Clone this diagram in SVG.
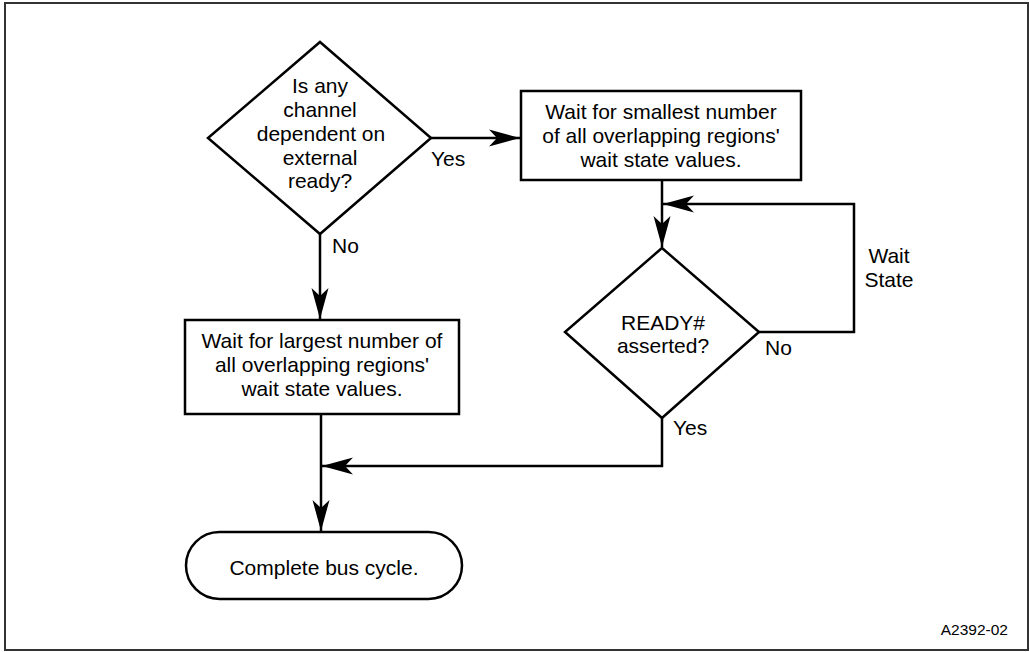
<svg xmlns="http://www.w3.org/2000/svg" width="1030" height="652" viewBox="0 0 1030 652">
<style>
.shape{fill:#fff;stroke:#000;stroke-width:2.5}
.line{fill:none;stroke:#000;stroke-width:2.5}
text{font-family:"Liberation Sans",Arial,sans-serif;font-size:21px;fill:#000}
.c{text-anchor:middle}
</style>
<defs>
<marker id="arr" viewBox="-32 -10 34 20" refX="0" refY="0" markerWidth="34" markerHeight="20" markerUnits="userSpaceOnUse" orient="auto">
<path d="M0,0 L-31,-8.5 L-23,0 L-31,8.5 Z" fill="#000"/>
</marker>
</defs>
<rect x="5" y="3" width="1023" height="647" fill="#fff" stroke="#333" stroke-width="2"/>
<g id="connectors">
<line class="line" x1="431" y1="138" x2="520" y2="138" marker-end="url(#arr)"/>
<line class="line" x1="320" y1="234" x2="320" y2="319" marker-end="url(#arr)"/>
<line class="line" x1="662" y1="180" x2="662" y2="247" marker-end="url(#arr)"/>
<polyline class="line" points="759,332 854,332 854,204 663,204" marker-end="url(#arr)"/>
<polyline class="line" points="662,418 662,466 322,466" marker-end="url(#arr)"/>
<line class="line" x1="321" y1="414" x2="321" y2="531" marker-end="url(#arr)"/>
<text x="431" y="166">Yes</text>
<text x="332" y="253">No</text>
<text x="765" y="355">No</text>
<text x="673" y="435">Yes</text>
<text class="c" x="889" y="263">Wait</text>
<text class="c" x="889" y="287">State</text>
</g>
<g id="decision1">
<polygon class="shape" points="320,42 431,138 320,234 208,138"/>
<text class="c" x="320" y="93">Is any</text>
<text class="c" x="320" y="117">channel</text>
<text class="c" x="321" y="141">dependent on</text>
<text class="c" x="320" y="165">external</text>
<text class="c" x="320" y="188">ready?</text>
</g>
<g id="box-smallest">
<rect class="shape" x="521" y="91" width="280" height="89"/>
<text class="c" x="661" y="119">Wait for smallest number</text>
<text class="c" x="661" y="143">of all overlapping regions'</text>
<text class="c" x="661" y="167">wait state values.</text>
</g>
<g id="decision2">
<polygon class="shape" points="662,248 759,332 662,418 565,332"/>
<text class="c" x="663" y="330">READY#</text>
<text class="c" x="663" y="353">asserted?</text>
</g>
<g id="box-largest">
<rect class="shape" x="185" y="320" width="274" height="94"/>
<text class="c" x="322" y="348">Wait for largest number of</text>
<text class="c" x="322" y="372">all overlapping regions'</text>
<text class="c" x="322" y="396">wait state values.</text>
</g>
<g id="terminal">
<rect class="shape" x="186" y="532" width="276" height="67" rx="33.5" ry="33.5"/>
<text class="c" x="324" y="575">Complete bus cycle.</text>
</g>
<text x="1008" y="635" text-anchor="end" style="font-size:15.5px">A2392-02</text>
</svg>
